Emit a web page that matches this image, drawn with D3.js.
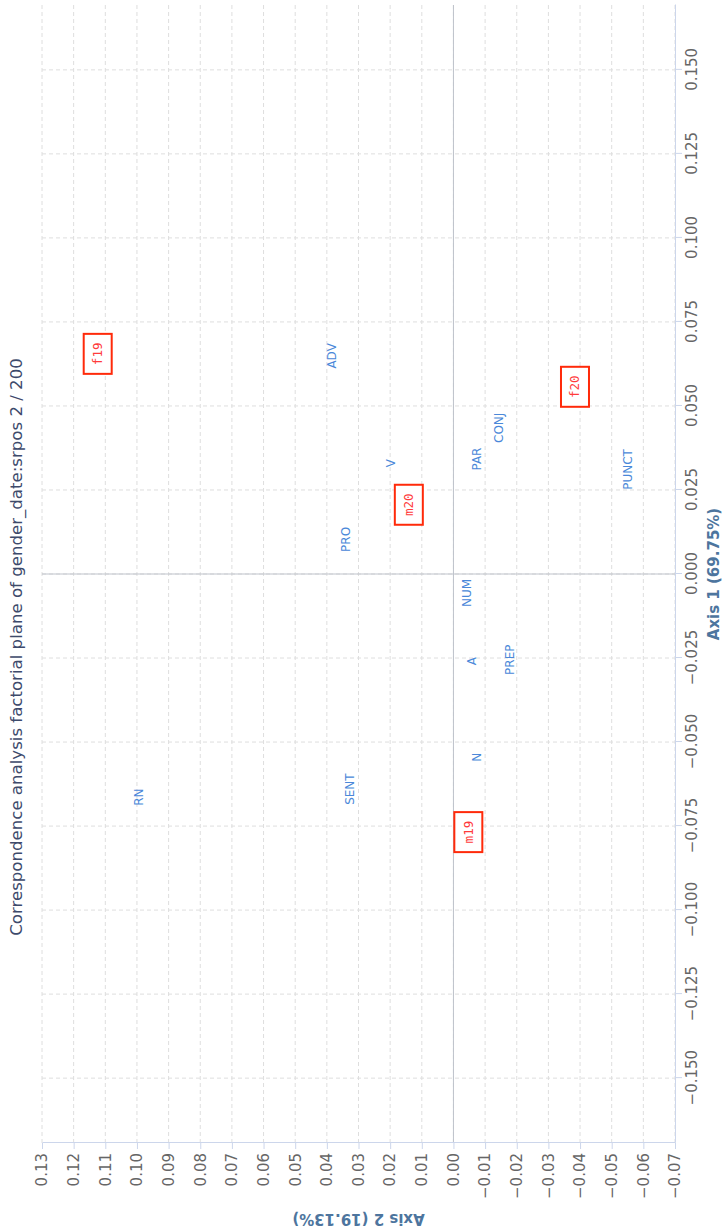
<!DOCTYPE html>
<html>
<head>
<meta charset="utf-8">
<script src="https://cdn.jsdelivr.net/npm/d3@7"></script>
<style>
  body { margin: 0; background: #fff; }
  text { font-family: "DejaVu Sans", sans-serif; }
</style>
</head>
<body>
<div id="graph"></div>
<script>
// row points (red boxes)
const rowNames = ["f19", "f20", "m19", "m20"];
const rowAxis1 = [0.0655, 0.0557, -0.0768, 0.0206];
const rowAxis2 = [0.1124, -0.0384, -0.0047, 0.0141];

// column points (blue labels)
const colNames = ["ADV", "CONJ", "V", "PAR", "PRO", "PUNCT", "NUM", "A", "PREP", "N", "RN", "SENT"];
const colAxis1 = [0.0649, 0.0435, 0.0330, 0.0342, 0.0103, 0.0311, -0.0056, -0.0259, -0.0255, -0.0545, -0.0664, -0.0640];
const colAxis2 = [0.0384, -0.0144, 0.0197, -0.0074, 0.0339, -0.0552, -0.0042, -0.0060, -0.0180, -0.0074, 0.0995, 0.0328];

// axes
const axis1Ticks = [-0.15, -0.125, -0.1, -0.075, -0.05, -0.025, 0, 0.025, 0.05, 0.075, 0.1, 0.125, 0.15];
const axis2Ticks = [-0.07, -0.06, -0.05, -0.04, -0.03, -0.02, -0.01, 0, 0.01, 0.02, 0.03, 0.04, 0.05, 0.06, 0.07, 0.08, 0.09, 0.10, 0.11, 0.12, 0.13];
const axis1Domain = [-0.1693, 0.1693];
const axis2Domain = [-0.07, 0.13];

const title = "Correspondence analysis factorial plane of gender_date:srpos 2 / 200";
const axis1Title = "Axis 1 (69.75%)";
const axis2Title = "Axis 2 (19.13%)";

// the chart is laid out landscape, then turned a quarter turn to the left
const chartW = 1232;
const chartH = 725;

const margin = { top: 42, bottom: 50, left: 89, right: 5 };
const plotRight = chartW - margin.right;
const plotBottom = chartH - margin.bottom;

const svg = d3.select('#graph')
  .append('svg')
  .attr('width', chartH)
  .attr('height', chartW);

const chart = svg.append('g')
  .attr('transform', `translate(0,${chartW}) rotate(-90)`);

// scales
const x = d3.scaleLinear()
  .domain(axis1Domain)
  .range([margin.left, plotRight]);

const y = d3.scaleLinear()
  .domain(axis2Domain)
  .range([plotBottom, margin.top]);

const gridColor = '#dedede';
const axisColor = '#ccd6eb';

// grid lines
chart.append('g')
  .selectAll('line')
  .data(axis1Ticks)
  .enter()
  .append('line')
  .attr('x1', d => x(d)).attr('x2', d => x(d))
  .attr('y1', margin.top).attr('y2', plotBottom)
  .attr('stroke', gridColor)
  .attr('stroke-dasharray', '4,3');

chart.append('g')
  .selectAll('line')
  .data(axis2Ticks)
  .enter()
  .append('line')
  .attr('x1', margin.left).attr('x2', plotRight)
  .attr('y1', d => y(d)).attr('y2', d => y(d))
  .attr('stroke', gridColor)
  .attr('stroke-dasharray', '4,3');

// zero lines
chart.append('line')
  .attr('x1', x(0)).attr('x2', x(0))
  .attr('y1', margin.top).attr('y2', plotBottom)
  .attr('stroke', '#bfc3cb');
chart.append('line')
  .attr('x1', margin.left).attr('x2', plotRight)
  .attr('y1', y(0)).attr('y2', y(0))
  .attr('stroke', '#bfc3cb');

// axis 1 (bottom of the landscape chart)
const ax1 = chart.append('g')
  .attr('transform', `translate(0,${plotBottom})`)
  .call(d3.axisBottom(x).tickValues(axis1Ticks).tickFormat(d3.format('.3f')).tickSize(7).tickSizeOuter(0).tickPadding(4));

// axis 2 (left of the landscape chart)
const ax2 = chart.append('g')
  .attr('transform', `translate(${margin.left},0)`)
  .call(d3.axisLeft(y).tickValues(axis2Ticks).tickFormat(d3.format('.2f')).tickSize(6).tickSizeOuter(0).tickPadding(4));

[ax1, ax2].forEach(g => {
  g.select('.domain').attr('stroke', axisColor);
  g.selectAll('.tick line').attr('stroke', axisColor);
  g.selectAll('.tick text')
    .attr('fill', '#666')
    .style('font-family', '"DejaVu Sans", sans-serif')
    .style('font-size', '15px');
});

// titles
chart.append('text')
  .attr('x', 585)
  .attr('y', 22)
  .attr('text-anchor', 'middle')
  .attr('fill', '#3d4a6b')
  .style('font-size', '16.6px')
  .text(title);

chart.append('text')
  .attr('x', (margin.left + plotRight) / 2)
  .attr('y', 719)
  .attr('text-anchor', 'middle')
  .attr('fill', '#4d759e')
  .style('font-size', '15px')
  .style('font-weight', 'bold')
  .text(axis1Title);

chart.append('text')
  .attr('transform', `translate(18,${(margin.top + plotBottom) / 2}) rotate(-90)`)
  .attr('text-anchor', 'middle')
  .attr('fill', '#4d759e')
  .style('font-size', '15px')
  .style('font-weight', 'bold')
  .text(axis2Title);

// column labels
chart.append('g')
  .selectAll('text')
  .data(colNames)
  .enter()
  .append('text')
  .attr('x', (d, i) => x(colAxis1[i]))
  .attr('y', (d, i) => y(colAxis2[i]))
  .attr('text-anchor', 'middle')
  .attr('dominant-baseline', 'central')
  .attr('fill', '#4a88d9')
  .style('font-size', '12px')
  .text(d => d);

// row labels in red boxes
const rows = chart.append('g')
  .selectAll('g')
  .data(rowNames)
  .enter()
  .append('g')
  .attr('transform', (d, i) => `translate(${x(rowAxis1[i])},${y(rowAxis2[i])})`);

rows.append('rect')
  .attr('x', -20).attr('y', -14)
  .attr('width', 40).attr('height', 28)
  .attr('fill', '#fff')
  .attr('stroke', '#ff2a0a')
  .attr('stroke-width', 2);

rows.append('text')
  .attr('text-anchor', 'middle')
  .attr('dominant-baseline', 'central')
  .attr('fill', '#ff3b3b')
  .style('font-family', '"DejaVu Sans Mono", monospace')
  .style('font-size', '12.5px')
  .text(d => d);
</script>
</body>
</html>
